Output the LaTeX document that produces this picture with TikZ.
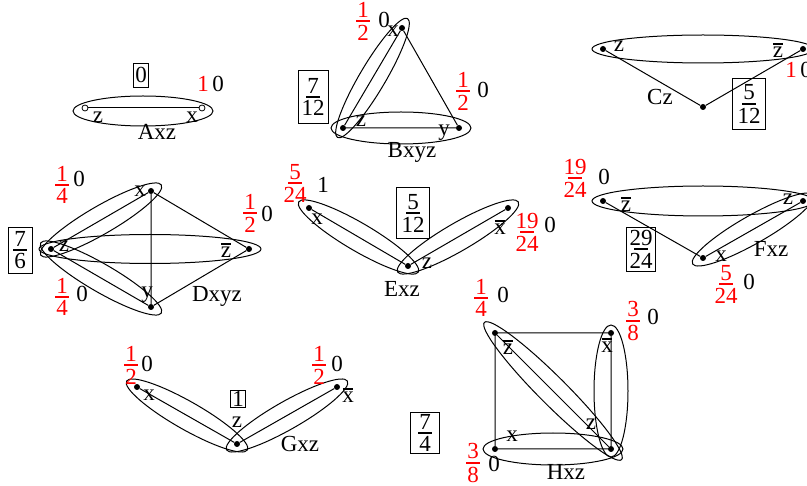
\documentclass[tikz,border=0pt]{standalone}
\usepackage{fontspec}
\setmainfont{Liberation Serif}
\usetikzlibrary{calc,shapes.geometric}

% stacked fraction with a short bar
\newcommand\fr[2]{\vbox{\offinterlineskip\halign{\hfil##\hfil\cr #1\cr\noalign{\kern2.6pt}\vrule width 0.6em height 2.4pt depth 0pt\cr\noalign{\kern2.6pt}#2\cr}}}
% barred (complemented) variable
\newcommand\ov[1]{\vbox{\offinterlineskip\halign{\hfil##\hfil\cr\vrule width 0.45em height 2.2pt depth 0pt\cr\noalign{\kern2.3pt}#1\cr}}}
% elongated ellipse around two vertices: name, vertex, vertex, overhang, half width
\newcommand\hull[5]{%
  \path let \p1=($(#3)-(#2)$), \n1={atan2(\y1,\x1)}, \n2={veclen(\x1,\y1)/2+#4} in
    node[hull, rotate=\n1, minimum width=2*\n2, minimum height=2*#5] (#1) at ($(#2)!0.5!(#3)$) {};}

\tikzset{
  every node/.style={font=\fontsize{23}{27}\selectfont, inner sep=0pt},
  lbl/.style={anchor=base},
  wt/.style={text=red},
  dot/.style={circle, fill=black, minimum size=6pt, inner sep=0pt},
  odot/.style={circle, draw, fill=white, minimum size=6pt, inner sep=0pt, line width=0.8pt},
  edge/.style={line width=1pt},
  hull/.style={draw, ellipse, inner sep=0pt, line width=1pt},
  valbox/.style={draw, line width=0.8pt, inner sep=0pt},
}

\begin{document}
\begin{tikzpicture}[x=1pt,y=-1pt]
\useasboundingbox (0,0) rectangle (807,486);

% ---------- Axz ----------
\coordinate (Azc) at (85,108);
\coordinate (Axc) at (202,108);
\draw[edge] (Azc) -- (Axc);
\node[hull, minimum width=140, minimum height=30] (Ahull) at (143,111) {};
\node[odot] (Az) at (Azc) {};
\node[odot] (Ax) at (Axc) {};
\node[lbl] (Alz) at (98,123) {z};
\node[lbl] (Alx) at (192,123) {x};
\node[lbl] (Aname) at (157,140) {Axz};
\node[lbl,wt] (Aw1) at (203,92) {1};
\node[lbl] (Aw2) at (218,92) {0};
\node[valbox, minimum width=15, minimum height=24] (Abox) at (141,75) {0};

% ---------- Bxyz ----------
\node[dot] (Bx) at (402,28) {};
\node[dot] (Bz) at (343,128) {};
\node[dot] (By) at (459,128) {};
\draw[edge] (Bx) -- (Bz) -- (By) -- (Bx);
\hull{Bh1}{Bx}{Bz}{11}{13}
\hull{Bh2}{Bz}{By}{12}{16}
\node[lbl] (Blx) at (393,37) {x};
\node[lbl] (Blz) at (361,127) {z};
\node[lbl] (Bly) at (444,136) {y};
\node[lbl] (Bname) at (412,158) {Bxyz};
\node[wt] (Bw1) at (363,21) {\fr{1}{2}};
\node[lbl] (Bw2) at (384,28) {0};
\node[wt] (Bw3) at (463,91) {\fr{1}{2}};
\node[lbl] (Bw4) at (483,98) {0};
\node[valbox, minimum width=30, minimum height=53] (Bbox) at (313,97) {\fr{7}{12}};

% ---------- Cz ----------
\node[dot] (Cz) at (603,49) {};
\node[dot] (Czb) at (803,49) {};
\node[dot] (Cb) at (703,107) {};
\draw[edge] (Cz) -- (Cb) -- (Czb);
\hull{Ch}{Cz}{Czb}{11}{14}
\node[lbl] (Clz) at (619,52) {z};
\node[lbl] (Clzb) at (778,58) {\ov{z}};
\node[lbl] (Cname) at (660,105) {Cz};
\node[lbl,wt] (Cw1) at (791,78) {1};
\node[lbl] (Cw2) at (806,78) {0};
\node[valbox, minimum width=33, minimum height=51] (Cbox) at (749,104) {\fr{5}{12}};

% ---------- Dxyz ----------
\node[dot] (Dz) at (51,249) {};
\node[dot] (Dx) at (151,191) {};
\node[dot] (Dy) at (151,307) {};
\node[dot] (Dzb) at (249,249) {};
\draw[edge] (Dz) -- (Dx) -- (Dy) -- (Dz);
\draw[edge] (Dx) -- (Dzb) -- (Dy);
\hull{Dh1}{Dz}{Dzb}{12}{14.5}
\hull{Dh2}{Dz}{Dx}{12}{14}
\hull{Dh3}{Dz}{Dy}{12}{14}
\node[lbl] (Dlx) at (140,197) {x};
\node[lbl] (Dlz) at (64,252) {z};
\node[lbl] (Dly) at (147,298) {y};
\node[lbl] (Dlzb) at (226,258) {\ov{z}};
\node[lbl] (Dname) at (217,302) {Dxyz};
\node[wt] (Dw1) at (62,185) {\fr{1}{4}};
\node[lbl] (Dw2) at (79,187) {0};
\node[wt] (Dw3) at (62,297) {\fr{1}{4}};
\node[lbl] (Dw4) at (82,302) {0};
\node[wt] (Dw5) at (250,213) {\fr{1}{2}};
\node[lbl] (Dw6) at (267,222) {0};
\node[valbox, minimum width=24, minimum height=46] (Dbox) at (20,250) {\fr{7}{6}};

% ---------- Exz ----------
\node[dot] (Ex) at (309,208) {};
\node[dot] (Exb) at (508,208) {};
\node[dot] (Ez) at (408,266) {};
\draw[edge] (Ex) -- (Ez) -- (Exb);
\hull{Eh1}{Ex}{Ez}{12}{14}
\hull{Eh2}{Exb}{Ez}{12}{14}
\node[lbl] (Elx) at (317,225) {x};
\node[lbl] (Elxb) at (500,235) {\ov{x}};
\node[lbl] (Elz) at (427,269) {z};
\node[lbl] (Ename) at (402,297) {Exz};
\node[wt] (Ew1) at (295,183) {\fr{5}{24}};
\node[lbl] (Ew2) at (323,193) {1};
\node[wt] (Ew3) at (527,232) {\fr{19}{24}};
\node[lbl] (Ew4) at (550,233) {0};
\node[valbox, minimum width=33, minimum height=51] (Ebox) at (413,213) {\fr{5}{12}};

% ---------- Fxz ----------
\node[dot] (Fzb) at (603,201) {};
\node[dot] (Fz) at (803,201) {};
\node[dot] (Fx) at (703,258) {};
\draw[edge] (Fzb) -- (Fx) -- (Fz);
\hull{Fh1}{Fzb}{Fz}{11}{15}
\hull{Fh2}{Fx}{Fz}{12}{14}
\node[lbl] (Flzb) at (626,212) {\ov{z}};
\node[lbl] (Flz) at (788,205) {z};
\node[lbl] (Flx) at (721,262) {x};
\node[lbl] (Fname) at (771,257) {Fxz};
\node[wt] (Fw1) at (575,178) {\fr{19}{24}};
\node[lbl] (Fw2) at (604,185) {0};
\node[wt] (Fw3) at (726,284) {\fr{5}{24}};
\node[lbl] (Fw4) at (749,290) {0};
\node[valbox, minimum width=29, minimum height=44] (Fbox) at (641,249) {\fr{29}{24}};

% ---------- Gxz ----------
\node[dot] (Gx) at (137,387) {};
\node[dot] (Gxb) at (337,387) {};
\node[dot] (Gz) at (237,444) {};
\draw[edge] (Gx) -- (Gz) -- (Gxb);
\hull{Gh1}{Gx}{Gz}{12}{14}
\hull{Gh2}{Gxb}{Gz}{12}{14}
\node[lbl] (Glx) at (149,401) {x};
\node[lbl] (Glxb) at (348,403) {\ov{x}};
\node[lbl] (Glz) at (237,428) {z};
\node[lbl] (Gname) at (300,452) {Gxz};
\node[wt] (Gw1) at (131,365) {\fr{1}{2}};
\node[lbl] (Gw2) at (147,372) {0};
\node[wt] (Gw3) at (319,365) {\fr{1}{2}};
\node[lbl] (Gw4) at (337,372) {0};
\node[valbox, minimum width=15, minimum height=17] (Gbox) at (238,399) {1};

% ---------- Hxz ----------
\node[dot] (Hzb) at (495,333) {};
\node[dot] (Hxb) at (611,333) {};
\node[dot] (Hx) at (495,449) {};
\node[dot] (Hz) at (611,449) {};
\draw[edge] (Hzb) -- (Hxb) -- (Hz) -- (Hx) -- (Hzb) -- (Hz);
\hull{Hh1}{Hzb}{Hz}{15}{14}
\hull{Hh2}{Hxb}{Hz}{8}{17}
\hull{Hh3}{Hx}{Hz}{12}{16}
\node[lbl] (Hlzb) at (508,355) {\ov{z}};
\node[lbl] (Hlxb) at (607,353) {\ov{x}};
\node[lbl] (Hlx) at (512,442) {x};
\node[lbl] (Hlz) at (591,430) {z};
\node[lbl] (Hname) at (566,480) {Hxz};
\node[wt] (Hw1) at (481,298) {\fr{1}{4}};
\node[lbl] (Hw2) at (503,303) {0};
\node[wt] (Hw3) at (633,321) {\fr{3}{8}};
\node[lbl] (Hw4) at (653,325) {0};
\node[wt] (Hw5) at (473,463) {\fr{3}{8}};
\node[lbl] (Hw6) at (494,472) {0};
\node[valbox, minimum width=29, minimum height=41] (Hbox) at (425,433) {\fr{7}{4}};
\end{tikzpicture}
\end{document}
